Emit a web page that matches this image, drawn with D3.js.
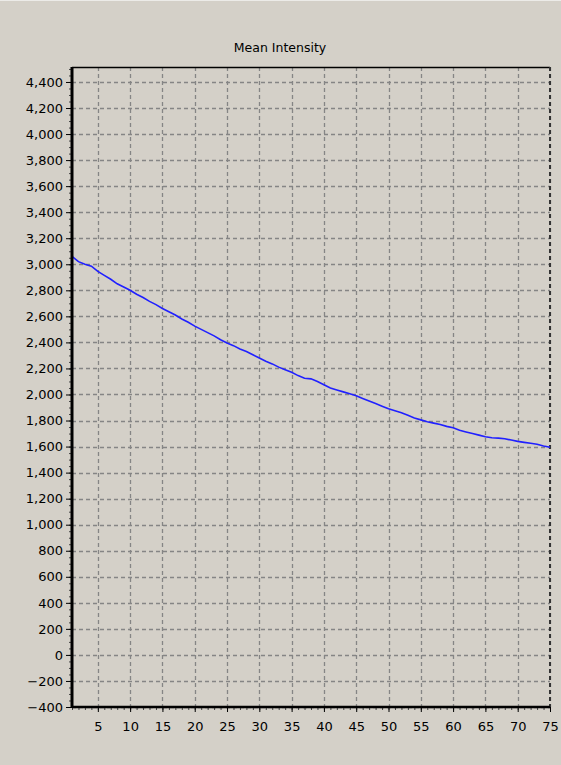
<!DOCTYPE html>
<html>
<head>
<meta charset="utf-8">
<script src="https://cdn.jsdelivr.net/npm/d3@7"></script>
<style>
  html, body { margin: 0; padding: 0; background: #d4d0c8; }
  svg { display: block; }
  text { font-family: "DejaVu Sans", sans-serif; font-size: 12px; fill: #000; }
</style>
</head>
<body>
<svg class="chart"></svg>
<script>
let title = 'Mean Intensity';
let frames = d3.range(1, 76);
let meanIntensity = [
  3060, 3020, 3000, 2985, 2945, 2915, 2885, 2850, 2825, 2800,
  2770, 2745, 2715, 2690, 2660, 2635, 2610, 2580, 2555, 2525,
  2500, 2475, 2450, 2420, 2395, 2375, 2350, 2330, 2305, 2280,
  2255, 2235, 2210, 2190, 2170, 2145, 2125, 2120, 2100, 2075,
  2050, 2035, 2020, 2005, 1990, 1970, 1950, 1930, 1910, 1890,
  1875, 1860, 1840, 1820, 1805, 1790, 1780, 1770, 1755, 1745,
  1725, 1712, 1700, 1688, 1675, 1668, 1665, 1660, 1650, 1640,
  1632, 1625, 1618, 1605, 1595
];
let xTicks = [5, 10, 15, 20, 25, 30, 35, 40, 45, 50, 55, 60, 65, 70, 75];
let yTicks = d3.range(-400, 4401, 200);
let xDomain = [1, 75];
let yDomain = [-400, 4515];

let W = 561, H = 765;
let margin = {top: 67, right: 11, bottom: 58, left: 72},
    width = W - margin.left - margin.right, height = H - margin.top - margin.bottom;

let x = d3.scaleLinear().domain(xDomain).range([0, width]);
let y = d3.scaleLinear().domain(yDomain).range([height, 0]);

let svg = d3.select('.chart')
    .attr('width', W)
    .attr('height', H);

svg.append('line')
    .attr('x1', 0).attr('x2', W).attr('y1', 0.5).attr('y2', 0.5)
    .style('stroke', '#ecebe8');

svg.append('text')
    .attr('x', 280)
    .attr('y', 52)
    .style('text-anchor', 'middle')
    .style('font-size', '12.5px')
    .text(title);

let chart = svg.append('g')
    .attr('transform', 'translate(' + margin.left + ',' + margin.top + ')');

// grid
chart.append('g').selectAll('line')
    .data(yTicks)
    .enter().append('line')
    .attr('x1', 0).attr('x2', width)
    .attr('y1', (d) => Math.round(y(d)) + 0.5)
    .attr('y2', (d) => Math.round(y(d)) + 0.5)
    .style('stroke', '#858585')
    .style('stroke-width', 1.3)
    .style('stroke-dasharray', '4,3');

chart.append('g').selectAll('line')
    .data(xTicks)
    .enter().append('line')
    .attr('y1', 0).attr('y2', height)
    .attr('x1', (d) => Math.round(x(d)) + 0.5)
    .attr('x2', (d) => Math.round(x(d)) + 0.5)
    .style('stroke', '#858585')
    .style('stroke-width', 1.3)
    .style('stroke-dasharray', '4,3');

// frame
chart.append('line')
    .attr('x1', 0).attr('x2', width).attr('y1', 0.5).attr('y2', 0.5)
    .style('stroke', '#000').style('stroke-width', 1.5);
chart.append('line')
    .attr('x1', width).attr('x2', width).attr('y1', 0).attr('y2', height)
    .style('stroke', '#333').style('stroke-width', 2)
    .style('stroke-dasharray', '4,3');

// series
let line = d3.line()
    .x((d, i) => x(frames[i]))
    .y((d) => y(d));

chart.append('path')
    .datum(meanIntensity)
    .attr('d', line)
    .style('fill', 'none')
    .style('stroke', '#2020ff')
    .style('stroke-width', 1.6);

// axes
let xAxis = d3.axisBottom(x).tickValues(xTicks).tickSize(5).tickPadding(10).tickFormat(d3.format('d'));
let xMinor = d3.axisBottom(x).tickValues(frames).tickSize(3).tickFormat('');
let yAxis = d3.axisLeft(y).tickValues(yTicks).tickSize(6).tickPadding(3).tickFormat(d3.format(','));
let yMinor = d3.axisLeft(y).tickValues(d3.range(-400, 4515, 50)).tickSize(3).tickFormat('');

chart.append('g')
    .attr('class', 'x minor')
    .attr('transform', 'translate(0,' + height + ')')
    .call(xMinor);
chart.append('g')
    .attr('class', 'x axis')
    .attr('transform', 'translate(0,' + height + ')')
    .call(xAxis);
chart.append('g')
    .attr('class', 'y minor')
    .call(yMinor);
chart.append('g')
    .attr('class', 'y axis')
    .call(yAxis);

chart.selectAll('.domain').remove();
chart.selectAll('.tick line').style('stroke', '#000');
chart.selectAll('.minor .tick line').style('stroke', '#444');
chart.selectAll('.axis text')
    .style('font-family', '"DejaVu Sans", sans-serif')
    .style('font-size', '13px')
    .style('fill', '#000');

chart.append('line')
    .attr('x1', 0).attr('x2', width).attr('y1', height).attr('y2', height)
    .style('stroke', '#000').style('stroke-width', 2.5);
chart.append('line')
    .attr('x1', 0).attr('x2', 0).attr('y1', 0).attr('y2', height)
    .style('stroke', '#000').style('stroke-width', 3);
</script>
</body>
</html>
